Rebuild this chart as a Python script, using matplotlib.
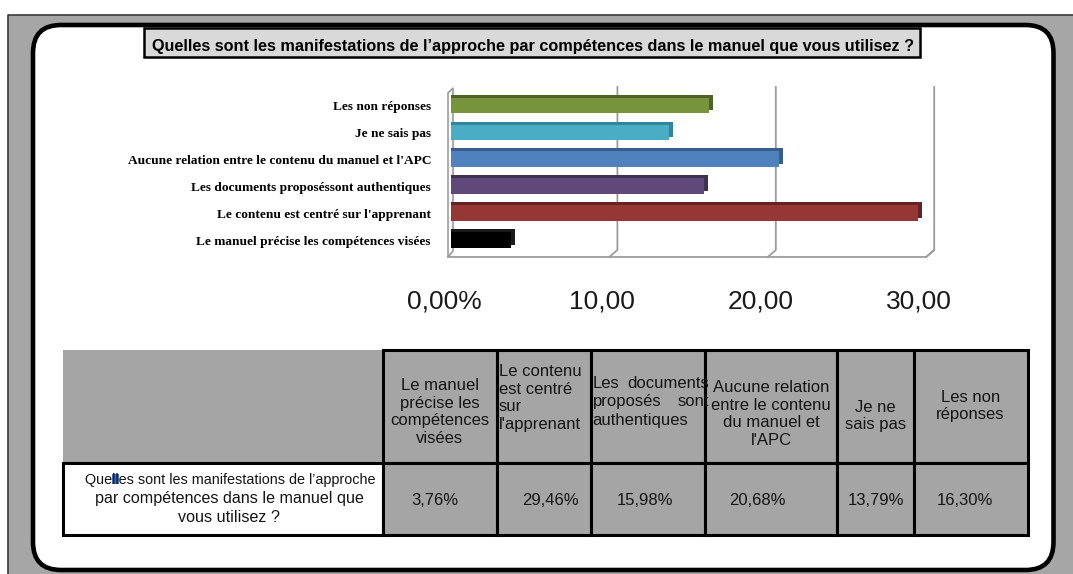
import matplotlib
matplotlib.use("Agg")
import matplotlib.pyplot as plt
from matplotlib.patches import Rectangle, FancyBboxPatch, Polygon
from matplotlib.transforms import ScaledTranslation
from matplotlib import font_manager

# ---------------- data ----------------
title = "Quelles sont les manifestations de l\u2019approche par compétences dans le manuel que vous utilisez ?"
bar_labels = [
    "Le manuel précise les compétences visées",
    "Le contenu est centré sur l'apprenant",
    "Les documents proposéssont authentiques",
    "Aucune relation entre le contenu du manuel et l'APC",
    "Je ne sais pas",
    "Les non réponses",
]
values = [3.76, 29.46, 15.98, 20.68, 13.79, 16.30]
bar_colors = ["#000000", "#953735", "#5F497A", "#4F81BD", "#4BACC6", "#77933C"]
cap_colors = ["#1a1a1a", "#632523", "#3F3151", "#385D8A", "#31859C", "#4F6228"]
xtick_values = [0, 10, 20, 30]
xtick_labels = ["0,00%", "10,00", "20,00", "30,00"]
table_headers = [
    "Le manuel\nprécise les\ncompétences\nvisées",
    "Le contenu\nest centré\nsur\nl'apprenant",
    None,  # justified cell, drawn word by word below
    "Aucune relation\nentre le contenu\ndu manuel et\nl'APC",
    "Je ne\nsais pas",
    "Les non\nréponses",
]
header3_lines = [("Les", "documents"), ("proposés", "sont"), ("authentiques", "")]
row_label_lines = [
    "Quelles sont les manifestations de l\u2019approche",
    "par compétences dans le manuel que",
    "vous utilisez ?",
]
table_values = [f"{v:.2f}".replace(".", ",") + "%" for v in values]


def pick(*names):
    for n in names:
        try:
            font_manager.findfont(font_manager.FontProperties(family=n), fallback_to_default=False)
            return n
        except Exception:
            continue
    return "DejaVu Sans"


SANS = pick("Liberation Sans", "Arial", "DejaVu Sans")
NARROW = pick("Liberation Sans Narrow", "Liberation Sans", "DejaVu Sans")
SERIF = pick("Liberation Serif", "DejaVu Serif")

W, H, DPI = 1073, 574, 100
fig = plt.figure(figsize=(W / DPI, H / DPI), dpi=DPI)
fig.patch.set_facecolor("white")

# ------------- background (pixel coords) -------------
bg = fig.add_axes([0, 0, 1, 1])
bg.set_xlim(0, W)
bg.set_ylim(H, 0)
bg.axis("off")

GRAY = "#A6A6A6"
bg.add_patch(Rectangle((8, 15), W - 8, H - 15, fc=GRAY, ec="none"))
bg.plot([8, 8, W], [H, 15, 15], color="#3a3a3a", lw=1.2)
bg.add_patch(FancyBboxPatch((33, 25), 1020.5, 545,
                            boxstyle="round,pad=0,rounding_size=28",
                            fc="white", ec="black", lw=3.3))

# title box
bg.add_patch(Rectangle((144, 28), 776, 29, fc="#D9D9D9", ec="black", lw=1.8))
t_title = bg.text(533.5, 50.5, title, ha="center", va="baseline",
                  fontsize=12, fontweight="bold", family=NARROW, color="black")

# ------------- table -------------
col_edges = [63, 383, 497, 590.5, 705, 837, 913.5, 1027.5]
row_edges = [350, 463, 535]
CELL = "#A5A5A5"
TLW = 2.2
TXT = "#151515"
bg.add_patch(Rectangle((col_edges[0], row_edges[0]), col_edges[1] - col_edges[0],
                       row_edges[1] - row_edges[0], fc=CELL, ec="none"))
bg.add_patch(Rectangle((col_edges[0], row_edges[1]), col_edges[1] - col_edges[0],
                       row_edges[2] - row_edges[1], fc="white", ec="black", lw=TLW))
for i in range(1, len(col_edges) - 1):
    for r in range(2):
        bg.add_patch(Rectangle((col_edges[i], row_edges[r]), col_edges[i + 1] - col_edges[i],
                               row_edges[r + 1] - row_edges[r], fc=CELL, ec="black", lw=TLW))

TFS = 12
header_y = [412, 398, None, 414, 416, 406]
for i, txt in enumerate(table_headers):
    if txt is None:
        continue
    x0, x1 = col_edges[i + 1], col_edges[i + 2]
    if i == 1:
        bg.text(x0 + 2, header_y[i], txt, ha="left", va="center", fontsize=TFS,
                family=SANS, color=TXT, linespacing=1.2)
    else:
        bg.text((x0 + x1) / 2, header_y[i], txt, ha="center", va="center", fontsize=TFS,
                family=SANS, color=TXT, linespacing=1.2)

# justified header cell (col 3), clipped to its cell
clip3 = Rectangle((col_edges[3], row_edges[0]), col_edges[4] - col_edges[3],
                  row_edges[1] - row_edges[0], transform=bg.transData)
for k, (left_w, right_w) in enumerate(header3_lines):
    y = 383 + k * 18.5
    tl = bg.text(col_edges[3] + 2, y, left_w, ha="left", va="center", fontsize=TFS,
                 family=SANS, color=TXT)
    tl.set_clip_path(clip3)
    if right_w:
        tr = bg.text(col_edges[4] + 4, y, right_w, ha="right", va="center", fontsize=TFS,
                     family=SANS, color=TXT)
        tr.set_clip_path(clip3)

# data row values
val_x = [435, 550, 645, 757, 876, 965]
for x, s in zip(val_x, table_values):
    bg.text(x, 505, s, ha="center", va="baseline", fontsize=TFS, family=SANS, color=TXT)

# row label
bg.add_patch(Rectangle((112, 474), 7, 10, fc="#3A6CC0", ec="none"))
t_rl1 = bg.text(230, 484, row_label_lines[0], ha="center", va="baseline", fontsize=TFS,
                family=NARROW, color=TXT)
bg.text(229, 503, row_label_lines[1], ha="center", va="baseline", fontsize=11.6,
        family=SANS, color=TXT)
bg.text(229, 522, row_label_lines[2], ha="center", va="baseline", fontsize=11.6,
        family=SANS, color=TXT)

# ------------- bar chart -------------
X0, SX = 451.0, 15.84      # px of value 0 (front plane), px per unit
YC0, SY = 240.0, 26.9      # px of category 0 centre, px per category
xmax = 31
ybot_px = YC0 + 0.5 * SY
ytop_px = YC0 - 5.5 * SY
ax = fig.add_axes([X0 / W, (H - ybot_px) / H, xmax * SX / W, (ybot_px - ytop_px) / H])
ax.set_xlim(0, xmax)
ax.set_ylim(-0.5, 5.5)
ax.patch.set_alpha(0)
for sp in ax.spines.values():
    sp.set_visible(False)


def px2x(px):
    return (px - X0) / SX


def px2y(py):
    return (YC0 - py) / SY


grid_c = "#9C9C9C"
dxd = 8 / SX
y_top, y_back, y_front = px2y(87), px2y(250), px2y(257)
for v in xtick_values[1:]:
    ax.plot([v + dxd, v + dxd, v], [y_top, y_back, y_front], color=grid_c, lw=1.3,
            clip_on=False, zorder=1)
ax.plot([px2x(448), xtick_values[-1], xtick_values[-1] + dxd], [y_front, y_front, y_back],
        color=grid_c, lw=1.3, clip_on=False, zorder=1)
wall = Polygon([(px2x(448), y_front), (px2x(448), px2y(93)), (px2x(453), px2y(88)),
                (px2x(453), px2y(251))], closed=True, fc="white", ec=grid_c, lw=1.2,
               clip_on=False, zorder=1)
ax.add_patch(wall)

ypos = list(range(len(values)))
cap = 4 / SX
shadow_tr = ax.transData + ScaledTranslation(0, 3 / DPI, fig.dpi_scale_trans)
ax.barh(ypos, [v + cap for v in values], height=0.58, color=cap_colors,
        transform=shadow_tr, zorder=2, clip_on=False)
ax.barh(ypos, values, height=0.58, color=bar_colors, zorder=3, clip_on=False)

ax.set_yticks(ypos)
ax.set_yticklabels(bar_labels, fontsize=9.6, fontweight="bold", family=SERIF)
ax.tick_params(axis="y", length=0, pad=14.4)
ax.set_xticks([])
lab_off = ScaledTranslation(-7 / DPI, 0, fig.dpi_scale_trans)
for v, s in zip(xtick_values, xtick_labels):
    ax.text(v, px2y(308), s, ha="center", va="baseline", fontsize=19, family=SANS,
            color="#1a1a1a", transform=ax.transData + lab_off, clip_on=False)

# fit condensed texts to measured widths
fig.canvas.draw()
r = fig.canvas.get_renderer()
for t, target in [(t_title, 757), (t_rl1, 290)]:
    w = t.get_window_extent(r).width
    t.set_fontsize(t.get_fontsize() * target / w)

fig.savefig("out.png", dpi=DPI)
